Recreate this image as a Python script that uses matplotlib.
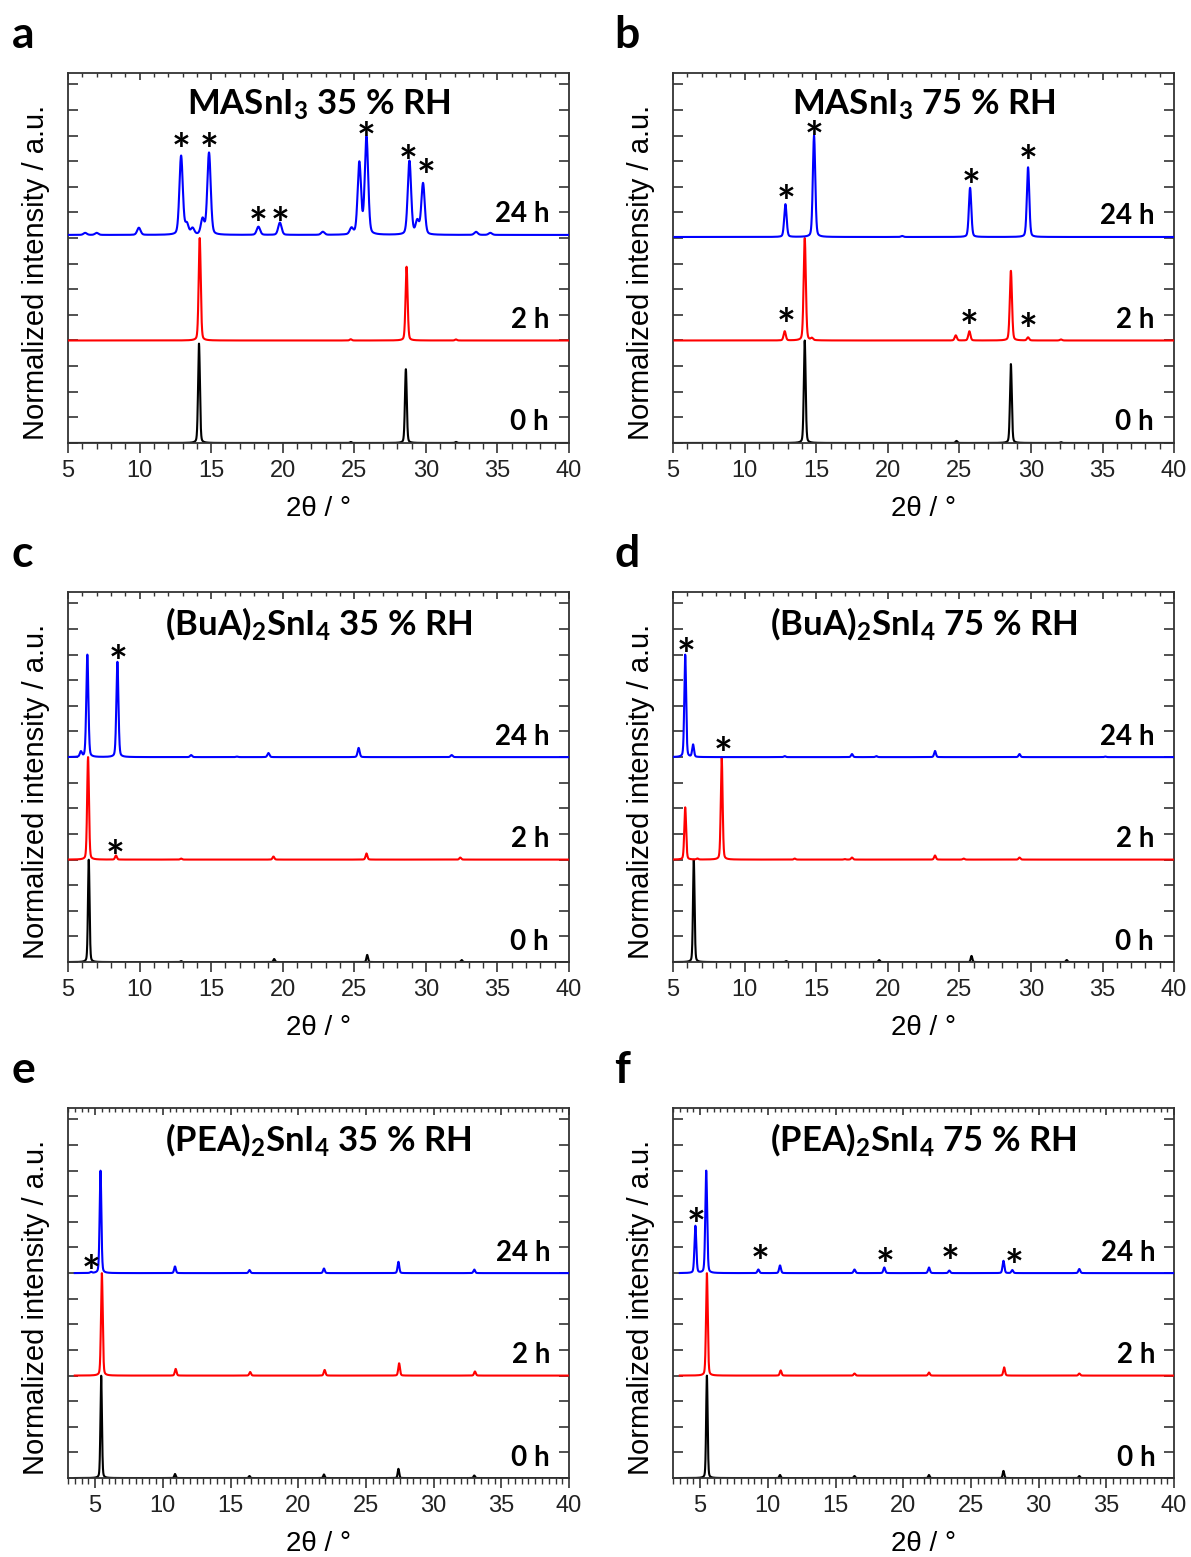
import numpy as np
import matplotlib
matplotlib.use("Agg")
import matplotlib.pyplot as plt
from matplotlib.ticker import MultipleLocator

# ---------------- data (peak lists) ----------------
# Each trace: peak positions (2theta, deg), peak heights (normalized), FWHM (deg)
# Panel a : MASnI3 35 % RH
a0_pos = [14.15, 24.75, 28.6, 32.1]
a0_int = [0.97, 0.01, 0.72, 0.01]
a0_fwhm = 0.15
a2_pos = [14.2, 24.75, 28.65, 32.1]
a2_int = [1.0, 0.012, 0.72, 0.01]
a2_fwhm = 0.17
a24_pos = [6.2, 7.0, 9.95, 12.9, 13.3, 13.7, 14.4, 14.85, 18.3, 19.8, 22.8,
           24.8, 25.35, 25.85, 28.85, 29.4, 29.8, 33.5, 34.5]
a24_int = [0.02, 0.02, 0.07, 0.77, 0.10, 0.06, 0.15, 0.80, 0.08, 0.12, 0.03,
           0.06, 0.70, 0.95, 0.72, 0.13, 0.50, 0.03, 0.02]
a24_fwhm = 0.28

# Panel b : MASnI3 75 % RH
b0_pos = [14.2, 24.8, 28.6, 32.1]
b0_int = [1.0, 0.02, 0.77, 0.008]
b0_fwhm = 0.15
b2_pos = [12.8, 14.2, 14.7, 24.75, 25.7, 28.6, 29.8, 32.1]
b2_int = [0.09, 1.0, 0.02, 0.05, 0.09, 0.68, 0.03, 0.01]
b2_fwhm = 0.18
b24_pos = [12.85, 14.85, 21.0, 25.75, 29.8]
b24_int = [0.32, 0.99, 0.01, 0.48, 0.68]
b24_fwhm = 0.2

# Panel c : (BuA)2SnI4 35 % RH
c0_pos = [6.45, 12.9, 19.4, 25.9, 32.5]
c0_int = [1.0, 0.01, 0.03, 0.07, 0.02]
c0_fwhm = 0.13
c2_pos = [6.4, 8.35, 12.9, 19.35, 25.85, 32.4]
c2_int = [1.0, 0.04, 0.01, 0.03, 0.06, 0.02]
c2_fwhm = 0.15
c24_pos = [5.9, 6.35, 8.45, 13.6, 16.8, 19.0, 25.3, 31.8]
c24_int = [0.05, 1.0, 0.93, 0.02, 0.005, 0.04, 0.09, 0.02]
c24_fwhm = 0.17

# Panel d : (BuA)2SnI4 75 % RH
d0_pos = [6.45, 12.9, 19.4, 25.85, 32.5]
d0_int = [1.0, 0.01, 0.02, 0.06, 0.02]
d0_fwhm = 0.13
d2_pos = [5.85, 6.7, 8.4, 13.5, 17.0, 17.5, 23.3, 25.3, 29.2]
d2_int = [0.51, 0.01, 1.0, 0.01, 0.005, 0.02, 0.04, 0.01, 0.02]
d2_fwhm = 0.15
d24_pos = [5.85, 6.4, 12.8, 17.5, 19.2, 23.3, 29.2, 35.2]
d24_int = [1.0, 0.12, 0.01, 0.03, 0.01, 0.06, 0.03, 0.005]
d24_fwhm = 0.15

# Panel e : (PEA)2SnI4 35 % RH
e0_pos = [5.45, 10.9, 16.4, 21.9, 27.4, 33.0]
e0_int = [1.0, 0.04, 0.02, 0.035, 0.09, 0.025]
e0_fwhm = 0.13
e2_pos = [5.5, 10.95, 16.45, 21.95, 27.45, 33.05]
e2_int = [1.0, 0.065, 0.035, 0.055, 0.12, 0.04]
e2_fwhm = 0.15
e24_pos = [4.7, 5.4, 10.9, 16.4, 21.9, 27.4, 33.0]
e24_int = [0.01, 1.0, 0.065, 0.03, 0.045, 0.11, 0.035]
e24_fwhm = 0.15

# Panel f : (PEA)2SnI4 75 % RH
f0_pos = [5.5, 10.9, 16.4, 21.9, 27.4, 33.0]
f0_int = [1.0, 0.03, 0.02, 0.03, 0.07, 0.02]
f0_fwhm = 0.13
f2_pos = [5.5, 10.95, 16.4, 21.9, 27.45, 33.0]
f2_int = [1.0, 0.05, 0.02, 0.03, 0.08, 0.02]
f2_fwhm = 0.15
f24_pos = [4.65, 5.45, 9.3, 10.9, 16.4, 18.6, 21.9, 23.4, 27.4, 28.05, 33.0]
f24_int = [0.46, 1.0, 0.035, 0.075, 0.035, 0.055, 0.055, 0.025, 0.12, 0.03, 0.04]
f24_fwhm = 0.16

# vertical offsets of the 0 h, 2 h, 24 h traces
offsets_a = [0.0, 1.0, 2.03]
offsets_b = [0.0, 1.0, 2.01]
offsets_other = [0.0, 1.0, 2.0]

# asterisk marks: (2theta, y of the asterisk centre)
stars_a = [(12.9, 2.98), (14.85, 2.98), (18.3, 2.26), (19.8, 2.26), (25.8, 3.09), (28.75, 2.86), (30.05, 2.73)]
stars_b = [(12.9, 2.47), (14.85, 3.10), (25.8, 2.63), (29.8, 2.86), (12.9, 1.27), (25.7, 1.25), (29.8, 1.22)]
stars_c = [(8.5, 3.05), (8.3, 1.15)]
stars_d = [(5.9, 3.12), (8.5, 2.15)]
stars_e = [(4.7, 2.13)]
stars_f = [(4.7, 2.59), (9.4, 2.23), (18.7, 2.2), (23.5, 2.23), (28.2, 2.19)]

titles = [r"MASnI$\mathregular{_3}$ 35 % RH", r"MASnI$\mathregular{_3}$ 75 % RH",
          r"(BuA)$\mathregular{_2}$SnI$\mathregular{_4}$ 35 % RH", r"(BuA)$\mathregular{_2}$SnI$\mathregular{_4}$ 75 % RH",
          r"(PEA)$\mathregular{_2}$SnI$\mathregular{_4}$ 35 % RH", r"(PEA)$\mathregular{_2}$SnI$\mathregular{_4}$ 75 % RH"]
letters = ["a", "b", "c", "d", "e", "f"]
time_labels = ["0 h", "2 h", "24 h"]
colors = ["black", "#ff0000", "#0000ff"]
xlims = [(5, 40), (5, 40), (5, 40), (5, 40), (3, 40), (3, 40)]
xstarts = [5.0, 5.1, 5.0, 5.0, 3.5, 3.5]

panels = [
    ((a0_pos, a0_int, a0_fwhm), (a2_pos, a2_int, a2_fwhm), (a24_pos, a24_int, a24_fwhm)),
    ((b0_pos, b0_int, b0_fwhm), (b2_pos, b2_int, b2_fwhm), (b24_pos, b24_int, b24_fwhm)),
    ((c0_pos, c0_int, c0_fwhm), (c2_pos, c2_int, c2_fwhm), (c24_pos, c24_int, c24_fwhm)),
    ((d0_pos, d0_int, d0_fwhm), (d2_pos, d2_int, d2_fwhm), (d24_pos, d24_int, d24_fwhm)),
    ((e0_pos, e0_int, e0_fwhm), (e2_pos, e2_int, e2_fwhm), (e24_pos, e24_int, e24_fwhm)),
    ((f0_pos, f0_int, f0_fwhm), (f2_pos, f2_int, f2_fwhm), (f24_pos, f24_int, f24_fwhm)),
]
panel_offsets = [offsets_a, offsets_b, offsets_other, offsets_other, offsets_other, offsets_other]
panel_stars = [stars_a, stars_b, stars_c, stars_d, stars_e, stars_f]


def profile(x, pos, ints, fwhm, eta=0.25):
    y = np.zeros_like(x)
    for p, h in zip(pos, ints):
        u = (x - p) / fwhm
        g = np.exp(-4 * np.log(2) * u ** 2)
        lz = 1.0 / (1 + 4 * u ** 2)
        y += h * ((1 - eta) * g + eta * lz)
    return y


# ---------------- figure ----------------
plt.rcParams["font.family"] = ["Liberation Sans", "DejaVu Sans"]
plt.rcParams["mathtext.fontset"] = "custom"
BOLD = ["Lato", "Open Sans", "DejaVu Sans"]
STAR_FS = 32

fig = plt.figure(figsize=(11.91, 15.57), dpi=100)
lefts = [0.0571, 0.5651]
bottoms = [0.7155, 0.3821, 0.0507]
W, H = 0.4207, 0.2376
letter_y = [0.9775, 0.6445, 0.313]
letter_x = [0.010, 0.516]

for i in range(6):
    r, c = divmod(i, 2)
    ax = fig.add_axes([lefts[c], bottoms[r], W, H])
    x0, x1 = xlims[i]
    x = np.linspace(xstarts[i], 40, 6000)
    for k in range(3):
        pos, ints, fw = panels[i][k]
        y = profile(x, pos, ints, fw) + panel_offsets[i][k]
        ax.plot(x, y, color=colors[k], lw=1.5, zorder=2 + k)
        ax.text(38.6, panel_offsets[i][k] + 0.2, time_labels[k], ha="right", va="center",
                fontsize=20, fontweight="bold", family=BOLD, zorder=6)
    for sx, sy in panel_stars[i]:
        ax.annotate("*", xy=(sx, sy), xytext=(0, -0.62 * STAR_FS), textcoords="offset points",
                    ha="center", va="baseline", fontsize=STAR_FS, fontweight="bold",
                    family=BOLD, zorder=7)
    ax.text(0.5, 0.915, titles[i], transform=ax.transAxes, ha="center", va="center",
            fontsize=25, fontweight="bold", family=BOLD)
    ax.set_xlim(x0, x1)
    ax.set_ylim(0, 3.61)
    ax.xaxis.set_major_locator(MultipleLocator(5))
    ax.xaxis.set_minor_locator(MultipleLocator(0.5 if i >= 4 else 1))
    ax.yaxis.set_major_locator(MultipleLocator(0.25))
    ax.set_yticklabels([])
    ax.tick_params(axis="x", which="major", direction="out", length=7, width=1.2,
                   labelsize=17, pad=5, colors="#333333", labelcolor="#222222")
    ax.tick_params(axis="x", which="minor", direction="out", length=4, width=1.0, colors="#333333")
    ax.tick_params(axis="y", which="both", direction="in", left=True, right=True,
                   length=7, width=1.2, colors="#333333")
    sec = ax.secondary_xaxis("top")
    sec.xaxis.set_major_locator(MultipleLocator(5))
    sec.xaxis.set_minor_locator(MultipleLocator(0.5 if i >= 4 else 1))
    sec.tick_params(axis="x", which="major", direction="in", length=5, width=1.2,
                    labeltop=False, colors="#333333")
    sec.tick_params(axis="x", which="minor", direction="in", length=3, width=1.0, colors="#333333")
    sec.spines["top"].set_visible(False)
    for s in ax.spines.values():
        s.set_linewidth(1.3)
        s.set_color("#333333")
    ax.set_xlabel("2θ / °", fontsize=20, labelpad=10)
    ax.set_ylabel("Normalized intensity / a.u.", fontsize=21)
    ax.yaxis.set_label_coords(-0.036, 0.46)
    fig.text(letter_x[c], letter_y[r], letters[i], fontsize=32, fontweight="bold",
             family=BOLD, ha="left", va="center")

fig.savefig("out.png", dpi=100)
